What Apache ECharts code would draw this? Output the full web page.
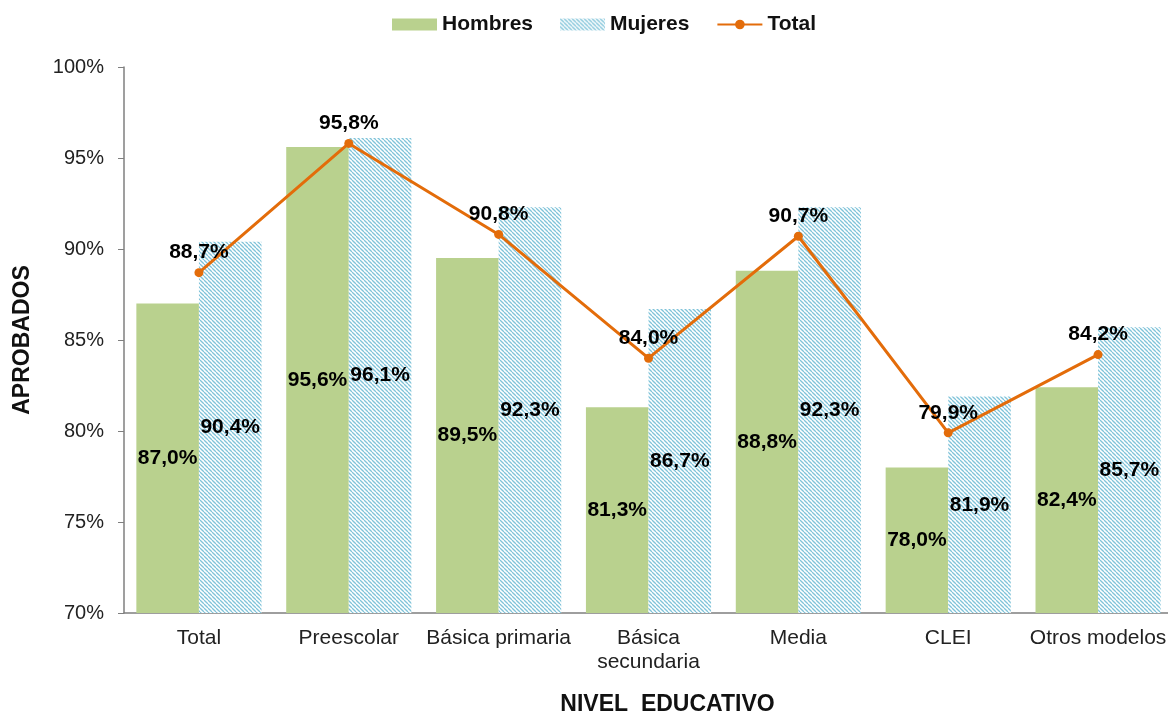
<!DOCTYPE html>
<html>
<head>
<meta charset="utf-8">
<script src="https://cdn.jsdelivr.net/npm/echarts@6/dist/echarts.min.js"></script>
<style>
  html, body { margin: 0; padding: 0; background: #fff; }
  #chart { width: 1168px; height: 713px; }
</style>
</head>
<body>
<div id="chart"></div>
<script>
// Approval rate by education level and sex
const categories = ['Total', 'Preescolar', 'Básica primaria', 'Básica\nsecundaria', 'Media', 'CLEI', 'Otros modelos'];
const hombres = [87.0, 95.6, 89.5, 81.3, 88.8, 78.0, 82.4];
const mujeres = [90.4, 96.1, 92.3, 86.7, 92.3, 81.9, 85.7];
const total = [88.7, 95.8, 90.8, 84.0, 90.7, 79.9, 84.2];

const FONT = '"Liberation Sans", Arial, sans-serif';

// Diagonal hatch fill for the "Mujeres" bars
function makeHatch() {
  const c = document.createElement('canvas');
  const s = 4;
  c.width = s; c.height = s;
  const ctx = c.getContext('2d');
  ctx.fillStyle = '#ffffff';
  ctx.fillRect(0, 0, s, s);
  ctx.strokeStyle = '#80c3d9';
  ctx.lineWidth = 1.3;
  for (let k = -1; k <= 1; k++) {
    ctx.beginPath();
    ctx.moveTo(k * s, 0);
    ctx.lineTo(k * s + s, s);
    ctx.stroke();
  }
  return c;
}
const hatch = { image: makeHatch(), repeat: 'repeat' };

const pct = v => v.toFixed(1).replace('.', ',') + '%';

const labelStyle = {
  fontFamily: FONT, fontSize: 21, fontWeight: 'bold', color: '#000',
  formatter: p => pct(p.value)
};

const chart = echarts.init(document.getElementById('chart'), null, { renderer: 'canvas' });
chart.setOption({
  animation: false,
  textStyle: { fontFamily: FONT },
  legend: {
    top: 9,
    left: 387,
    itemWidth: 45,
    itemHeight: 12,
    itemGap: 27,
    textStyle: { fontFamily: FONT, fontSize: 21, fontWeight: 'bold', color: '#111' },
    data: [
      { name: 'Hombres', icon: 'rect' },
      { name: 'Mujeres', icon: 'rect' },
      { name: 'Total' }
    ]
  },
  grid: { left: 124, right: -5, top: 67, bottom: 100, containLabel: false, outerBoundsMode: 'none' },
  xAxis: {
    type: 'category',
    data: categories,
    name: 'NIVEL  EDUCATIVO',
    nameLocation: 'middle',
    nameGap: 80,
    nameTextStyle: { fontFamily: FONT, fontSize: 23, fontWeight: 'bold', color: '#111', padding: [0, 0, 0, 38] },
    axisLine: { lineStyle: { color: '#7f7f7f', width: 1.5 } },
    axisTick: { show: false },
    axisLabel: { fontFamily: FONT, fontSize: 21, color: '#222', margin: 13, lineHeight: 24, interval: 0 }
  },
  yAxis: {
    type: 'value',
    min: 70,
    max: 100,
    interval: 5,
    name: 'APROBADOS',
    nameLocation: 'middle',
    nameGap: 90,
    nameRotate: 90,
    nameTextStyle: { fontFamily: FONT, fontSize: 23, fontWeight: 'bold', color: '#111' },
    axisLine: { show: true, lineStyle: { color: '#7f7f7f', width: 1.5 } },
    axisTick: { show: true, inside: false, length: 6, lineStyle: { color: '#7f7f7f' } },
    splitLine: { show: false },
    axisLabel: { fontFamily: FONT, fontSize: 20, color: '#222', margin: 20, formatter: '{value}%' }
  },
  series: [
    {
      name: 'Hombres',
      type: 'bar',
      data: hombres,
      barGap: '0%',
      barCategoryGap: '16.5%',
      itemStyle: { color: '#b9d18e' },
      label: Object.assign({ show: true, position: 'inside' }, labelStyle),
      z: 2
    },
    {
      name: 'Mujeres',
      type: 'bar',
      data: mujeres,
      itemStyle: { color: hatch },
      label: Object.assign({ show: true, position: 'inside' }, labelStyle),
      z: 2
    },
    {
      name: 'Total',
      type: 'line',
      data: total,
      symbol: 'circle',
      symbolSize: 9,
      itemStyle: { color: '#e36c0a' },
      lineStyle: { color: '#e36c0a', width: 3 },
      label: Object.assign({ show: true, position: 'top', distance: 5 }, labelStyle),
      z: 5
    }
  ]
});
</script>
</body>
</html>
